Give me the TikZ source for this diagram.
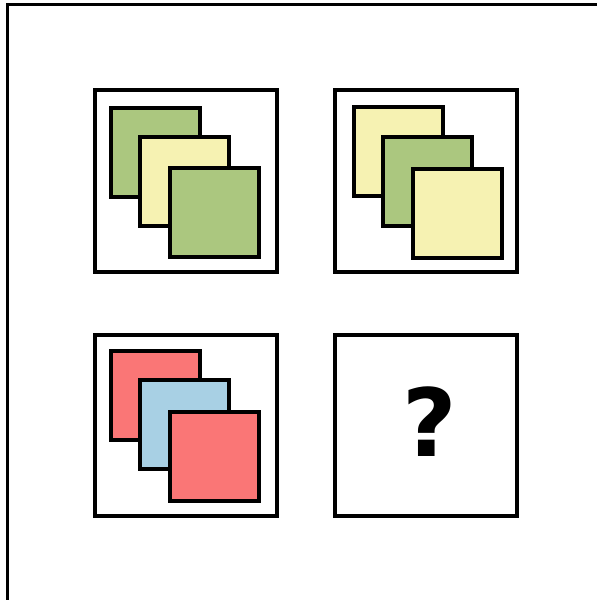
\documentclass[tikz,border=0pt]{standalone}
\usepackage{fontspec}
\newfontfamily\qfont{DejaVu Sans}
\definecolor{sqgreen}{RGB}{171,199,127}
\definecolor{sqyellow}{RGB}{246,242,178}
\definecolor{sqred}{RGB}{250,118,118}
\definecolor{sqblue}{RGB}{168,208,228}
\begin{document}
\begin{tikzpicture}[x=1pt,y=-1pt,
  panel/.style={draw=black,line width=4pt,fill=white,rectangle,inner sep=0pt,minimum width=182pt,minimum height=181.5pt},
  tile/.style={draw=black,line width=4pt,rectangle,inner sep=0pt,minimum size=89pt},
  frame/.style={draw=black,line width=3pt}]
\useasboundingbox (0,0) rectangle (597,600);
\clip (0,0) rectangle (597,600);
\fill[white] (0,0) rectangle (597,600);
\draw[frame] (7.5,4.5) rectangle (601,601.2);
% panels
\node[panel] (p1) at (186,180.8) {};
\node[panel] (p2) at (426,181) {};
\node[panel] (p3) at (186,425.5) {};
\node[panel] (p4) at (426,425.5) {};
% panel 1
\node[tile,fill=sqgreen] (a1) at (155,152.3) {};
\node[tile,fill=sqyellow] (a2) at (184.6,181.7) {};
\node[tile,fill=sqgreen] (a3) at (214.2,212.7) {};
% panel 2
\node[tile,fill=sqyellow] (b1) at (398,151.7) {};
\node[tile,fill=sqgreen] (b2) at (427.5,181.5) {};
\node[tile,fill=sqyellow] (b3) at (457.2,213) {};
% panel 3
\node[tile,fill=sqred] (c1) at (155.3,395) {};
\node[tile,fill=sqblue] (c2) at (184.8,424) {};
\node[tile,fill=sqred] (c3) at (214.2,456) {};
% panel 4
\node[inner sep=0pt] (q) at (430,422) {\qfont\bfseries\fontsize{94}{94}\selectfont ?};
\end{tikzpicture}
\end{document}
